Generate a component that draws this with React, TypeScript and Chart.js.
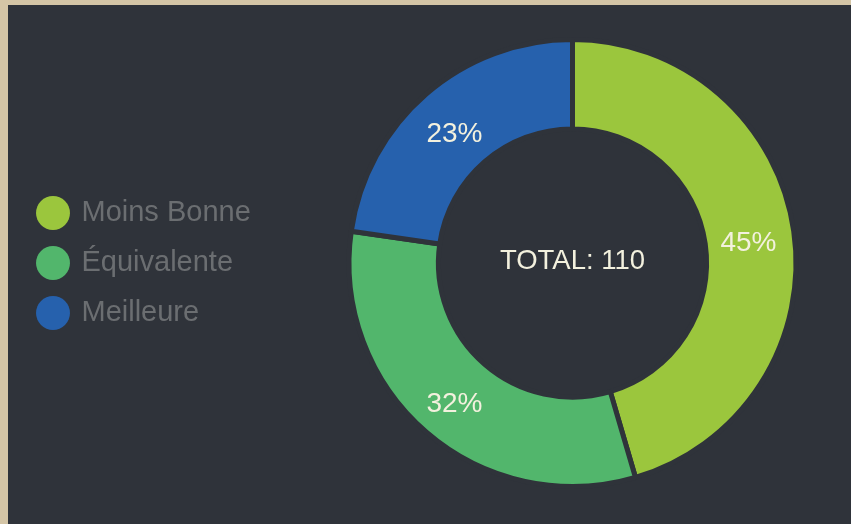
import React, { useEffect, useRef } from 'react';
import { Chart, registerables } from 'chart.js';

Chart.register(...registerables);

const categories = ['Moins Bonne', 'Équivalente', 'Meilleure'];
const values = [50, 35, 25];
const sliceColors = ['#9bc63d', '#52b66c', '#2661ad'];
const centerLabel = 'TOTAL';

const PANEL_BG = '#2f333a';
const PAGE_BG = '#d4c5a6';
const TEXT_LIGHT = '#f3f1de';
const LEGEND_TEXT = '#6b6e71';
const FONT = '"Liberation Sans", Arial, Helvetica, sans-serif';
const LEGEND_WIDTH = 276;

export default function App() {
  const ref = useRef<HTMLCanvasElement>(null);

  useEffect(() => {
    if (!ref.current) return;
    const total = values.reduce((a, b) => a + b, 0);

    const legendWidthPlugin = {
      id: 'legendWidth',
      beforeLayout(chart: any) {
        const lg = chart.legend;
        if (lg && !lg.__patched) {
          const origFit = lg.fit.bind(lg);
          lg.fit = function () {
            origFit();
            this.width = LEGEND_WIDTH;
          };
          lg.__patched = true;
        }
      },
    };

    const labelsPlugin = {
      id: 'sliceLabels',
      afterDatasetsDraw(chart: any) {
        const ctx = chart.ctx;
        const meta = chart.getDatasetMeta(0);
        ctx.save();
        ctx.fillStyle = TEXT_LIGHT;
        ctx.textAlign = 'center';
        ctx.textBaseline = 'middle';
        ctx.font = `28px ${FONT}`;
        meta.data.forEach((arc: any, i: number) => {
          const p = arc.tooltipPosition(false);
          const pct = Math.round((values[i] / total) * 100);
          ctx.fillText(`${pct}%`, p.x - 1, p.y + 6);
        });
        const first = meta.data[0];
        ctx.font = `27.5px ${FONT}`;
        ctx.fillText(`${centerLabel}: ${total}`, first.x, first.y - 2);
        ctx.restore();
      },
    };

    const defaultGen = (Chart as any).overrides.doughnut.plugins.legend.labels.generateLabels;

    const chart = new Chart(ref.current, {
      type: 'doughnut',
      data: {
        labels: categories,
        datasets: [
          {
            data: values,
            backgroundColor: sliceColors,
            borderColor: PANEL_BG,
            borderWidth: 5,
            hoverOffset: 0,
            offset: 0,
          },
        ],
      },
      options: {
        responsive: false,
        animation: false,
        events: [],
        cutout: '60%',
        layout: { padding: { left: 10, top: 32, bottom: 35, right: 0 } },
        plugins: {
          tooltip: { enabled: false },
          legend: {
            position: 'left',
            align: 'center',
            labels: {
              usePointStyle: true,
              pointStyle: 'circle',
              boxWidth: 28,
              boxHeight: 24,
              padding: 21,
              color: LEGEND_TEXT,
              font: { size: 29, family: FONT },
              generateLabels(chart: any) {
                return defaultGen(chart).map((it: any) => ({ ...it, lineWidth: 0, strokeStyle: 'rgba(0,0,0,0)' }));
              },
            },
          },
        },
      },
      plugins: [legendWidthPlugin, labelsPlugin],
    } as any);

    return () => chart.destroy();
  }, []);

  return (
    <div style={{ position: 'fixed', inset: 0, background: PAGE_BG }}>
      <div style={{ position: 'absolute', left: 8, top: 5, width: 843, height: 519, background: PANEL_BG }}>
        <canvas ref={ref} width={843} height={519} style={{ display: 'block', width: 843, height: 519 }} />
      </div>
    </div>
  );
}
